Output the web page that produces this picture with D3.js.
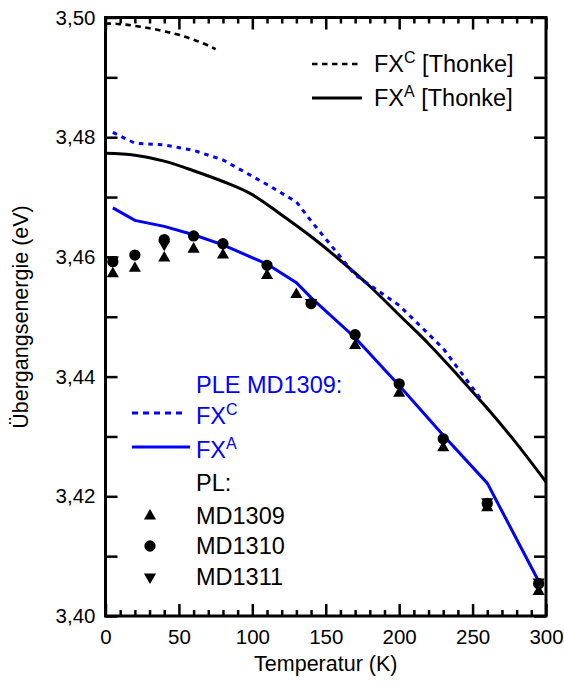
<!DOCTYPE html>
<html>
<head>
<meta charset="utf-8">
<script src="https://cdn.jsdelivr.net/npm/d3@7"></script>
<style>
  body { margin: 0; background: #fff; }
  text { font-family: "Liberation Sans", Arial, Helvetica, sans-serif; }
</style>
</head>
<body>
<svg id="chart" width="564" height="686"></svg>
<script>
// Free-exciton transitions: Thonke reference curves (black)
const thonkeC_T = [0, 10, 20, 30, 40, 50, 60, 70, 75];
const thonkeC_E = [3.4990, 3.4989, 3.4986, 3.4982, 3.4977, 3.4971, 3.4963, 3.4953, 3.4947];
const thonkeA_T = [0, 20, 40, 60, 80, 100, 120, 140, 160, 180, 200, 220, 240, 260, 280, 300];
const thonkeA_E = [3.4773, 3.4770, 3.4760, 3.4744, 3.4726, 3.4704, 3.4670, 3.4634, 3.4594, 3.4551, 3.4503, 3.4455, 3.4402, 3.4347, 3.4288, 3.4224];

// PLE on MD1309 (blue)
const pleC_T = [5, 20, 40, 60, 80, 110, 130, 140, 170, 200, 230, 257];
const pleC_E = [3.4808, 3.4790, 3.4787, 3.4778, 3.4762, 3.4721, 3.4692, 3.4660, 3.4570, 3.4519, 3.4447, 3.4358];
const pleA_T = [5, 20, 40, 60, 80, 110, 130, 140, 170, 200, 230, 260, 295];
const pleA_E = [3.4682, 3.4661, 3.4651, 3.4637, 3.4620, 3.4588, 3.4557, 3.4532, 3.4465, 3.4385, 3.4302, 3.4222, 3.4058];

// PL peak positions
const md1309_T = [5, 20, 40, 60, 80, 110, 130, 170, 200, 230, 260, 295];
const md1309_E = [3.4572, 3.4581, 3.4598, 3.4613, 3.4603, 3.4569, 3.4537, 3.4452, 3.4372, 3.4281, 3.4181, 3.4041];
const md1310_T = [5, 20, 40, 60, 80, 110, 140, 170, 200, 230, 260, 295];
const md1310_E = [3.4592, 3.4603, 3.4629, 3.4635, 3.4622, 3.4586, 3.4522, 3.4470, 3.4388, 3.4296, 3.4188, 3.4054];
const md1311_T = [5, 40, 140, 260, 295];
const md1311_E = [3.4595, 3.4621, 3.4524, 3.4191, 3.4057];

// Axis ticks
const xMajorTicks = [0, 50, 100, 150, 200, 250, 300];
const xMinorTicks = d3.range(0, 301, 10).filter(t => t % 50 !== 0);
const yTicks = d3.range(0, 11).map(i => +(3.40 + i * 0.01).toFixed(2));
const yLabelTicks = [3.40, 3.42, 3.44, 3.46, 3.48, 3.50];

const BLUE = "#0000ff";
const TICK_FONT = 20.5;
const TITLE_FONT = 21.5;
const LEG_FONT = 23.5;
const SUP_FONT = 16;

const svg = d3.select("#chart");
const plotLeft = 105.5, plotRight = 546, plotTop = 17.5, plotBottom = 616;

const x = d3.scaleLinear().domain([0, 300]).range([plotLeft, plotRight]);
const y = d3.scaleLinear().domain([3.40, 3.50]).range([plotBottom, plotTop]);

const de = d3.formatLocale({ decimal: ",", thousands: ".", grouping: [3], currency: ["", " €"] });
const fmtY = de.format(".2f");

// ---- axes with inward ticks on all four sides ----
function styleAxis(g) {
  g.select(".domain").remove();
  g.selectAll(".tick line").attr("stroke", "#000").attr("stroke-width", 2.5);
  g.selectAll(".tick text").attr("fill", "#000").style("font-size", TICK_FONT + "px")
    .style("font-family", '"Liberation Sans", Arial, sans-serif');
}

svg.append("g").attr("transform", `translate(0,${plotBottom})`)
  .call(d3.axisBottom(x).tickValues(xMajorTicks).tickSize(-12).tickPadding(13).tickFormat(d3.format("d")))
  .call(styleAxis);
svg.append("g").attr("transform", `translate(0,${plotBottom})`)
  .call(d3.axisBottom(x).tickValues(xMinorTicks).tickSize(-6).tickFormat(""))
  .call(styleAxis);
svg.append("g").attr("transform", `translate(0,${plotTop})`)
  .call(d3.axisTop(x).tickValues(xMajorTicks).tickSize(-12).tickFormat(""))
  .call(styleAxis);
svg.append("g").attr("transform", `translate(0,${plotTop})`)
  .call(d3.axisTop(x).tickValues(xMinorTicks).tickSize(-6).tickFormat(""))
  .call(styleAxis);
svg.append("g").attr("transform", `translate(${plotLeft},0)`)
  .call(d3.axisLeft(y).tickValues(yTicks).tickSize(-12).tickPadding(10)
    .tickFormat(d => yLabelTicks.some(v => Math.abs(v - d) < 1e-6) ? fmtY(d) : ""))
  .call(styleAxis);
svg.append("g").attr("transform", `translate(${plotRight},0)`)
  .call(d3.axisRight(y).tickValues(yTicks).tickSize(-12).tickFormat(""))
  .call(styleAxis);

// frame
svg.append("rect")
  .attr("x", plotLeft).attr("y", plotTop)
  .attr("width", plotRight - plotLeft).attr("height", plotBottom - plotTop)
  .attr("fill", "none").attr("stroke", "#000").attr("stroke-width", 3);

// axis titles
svg.append("text")
  .attr("x", (plotLeft + plotRight) / 2).attr("y", 671)
  .attr("text-anchor", "middle").style("font-size", TITLE_FONT + "px")
  .text("Temperatur (K)");
svg.append("text")
  .attr("transform", "translate(28,317) rotate(-90)")
  .attr("text-anchor", "middle").style("font-size", TITLE_FONT + "px")
  .text("Übergangsenergie (eV)");

// ---- curves ----
const zip = (T, E) => T.map((t, i) => [t, E[i]]);
const smooth = d3.line().x(d => x(d[0])).y(d => y(d[1])).curve(d3.curveMonotoneX);
const poly = d3.line().x(d => x(d[0])).y(d => y(d[1]));

const plot = svg.append("g");

plot.append("path").datum(zip(thonkeC_T, thonkeC_E))
  .attr("d", smooth).attr("fill", "none").attr("stroke", "#000")
  .attr("stroke-width", 2.6).attr("stroke-dasharray", "5.5,4.5");
plot.append("path").datum(zip(thonkeA_T, thonkeA_E))
  .attr("d", smooth).attr("fill", "none").attr("stroke", "#000")
  .attr("stroke-width", 3);
plot.append("path").datum(zip(pleC_T, pleC_E))
  .attr("d", poly).attr("fill", "none").attr("stroke", BLUE)
  .attr("stroke-width", 3).attr("stroke-dasharray", "4.5,5");
plot.append("path").datum(zip(pleA_T, pleA_E))
  .attr("d", poly).attr("fill", "none").attr("stroke", BLUE)
  .attr("stroke-width", 3);

// ---- PL markers ----
const triUp = d3.symbol().type(d3.symbolTriangle).size(64);
const circ = d3.symbol().type(d3.symbolCircle).size(100);

function drawMarkers(T, E, sym, rot) {
  plot.append("g").selectAll("path").data(zip(T, E)).join("path")
    .attr("d", sym())
    .attr("transform", d => `translate(${x(d[0])},${y(d[1])}) rotate(${rot})`)
    .attr("fill", "#000");
}
drawMarkers(md1311_T, md1311_E, triUp, 180);
drawMarkers(md1309_T, md1309_E, triUp, 0);
drawMarkers(md1310_T, md1310_E, circ, 0);

// ---- legends ----
function supLabel(g, xPos, yPos, base, sup, rest, color) {
  const t = g.append("text").attr("x", xPos).attr("y", yPos)
    .attr("fill", color).style("font-size", LEG_FONT + "px");
  t.append("tspan").text(base);
  t.append("tspan").attr("dy", -9).style("font-size", SUP_FONT + "px").text(sup);
  if (rest) t.append("tspan").attr("dy", 9).text(rest);
}

const leg = svg.append("g");
// Thonke legend (top right)
leg.append("line").attr("x1", 312).attr("x2", 360).attr("y1", 64).attr("y2", 64)
  .attr("stroke", "#000").attr("stroke-width", 2.6).attr("stroke-dasharray", "5.5,4.5");
supLabel(leg, 374, 72, "FX", "C", " [Thonke]", "#000");
leg.append("line").attr("x1", 312).attr("x2", 362).attr("y1", 98).attr("y2", 98)
  .attr("stroke", "#000").attr("stroke-width", 3);
supLabel(leg, 374, 106, "FX", "A", " [Thonke]", "#000");

// PLE / PL legend (lower left)
leg.append("text").attr("x", 196).attr("y", 393).attr("fill", BLUE)
  .style("font-size", LEG_FONT + "px").text("PLE MD1309:");
leg.append("line").attr("x1", 132).attr("x2", 182).attr("y1", 413).attr("y2", 413)
  .attr("stroke", BLUE).attr("stroke-width", 3).attr("stroke-dasharray", "6,5");
supLabel(leg, 196, 424, "FX", "C", null, BLUE);
leg.append("line").attr("x1", 132).attr("x2", 190).attr("y1", 447).attr("y2", 447)
  .attr("stroke", BLUE).attr("stroke-width", 3);
supLabel(leg, 196, 458, "FX", "A", null, BLUE);
leg.append("text").attr("x", 196).attr("y", 491).style("font-size", LEG_FONT + "px").text("PL:");

const legMarkers = [
  { sym: triUp, rot: 0, y: 516, label: "MD1309" },
  { sym: circ, rot: 0, y: 546, label: "MD1310" },
  { sym: triUp, rot: 180, y: 577, label: "MD1311" }
];
legMarkers.forEach(m => {
  leg.append("path").attr("d", m.sym())
    .attr("transform", `translate(150,${m.y}) rotate(${m.rot})`).attr("fill", "#000");
  leg.append("text").attr("x", 196).attr("y", m.y + 8)
    .style("font-size", LEG_FONT + "px").text(m.label);
});
</script>
</body>
</html>
